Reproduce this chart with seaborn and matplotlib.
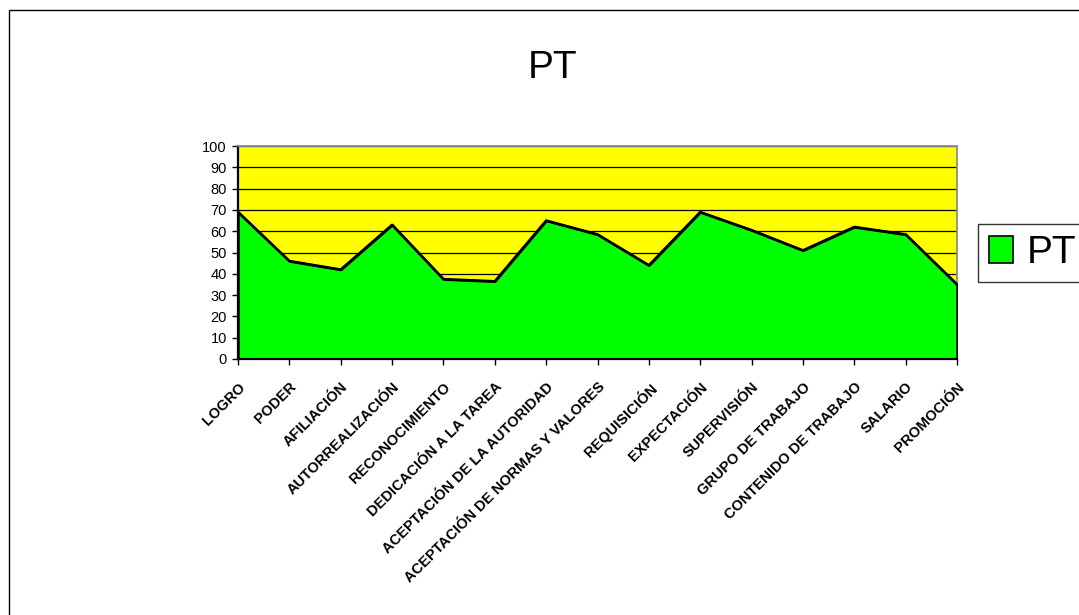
import matplotlib
matplotlib.use("Agg")
import matplotlib.pyplot as plt
import seaborn as sns
import pandas as pd
from matplotlib.patches import Rectangle, Patch

# Motivation factors and PT scores
categories = [
    "LOGRO", "PODER", "AFILIACIÓN", "AUTORREALIZACIÓN", "RECONOCIMIENTO",
    "DEDICACIÓN A LA TAREA", "ACEPTACIÓN DE LA AUTORIDAD",
    "ACEPTACIÓN DE NORMAS Y VALORES", "REQUISICIÓN", "EXPECTACIÓN",
    "SUPERVISIÓN", "GRUPO DE TRABAJO", "CONTENIDO DE TRABAJO", "SALARIO",
    "PROMOCIÓN",
]
pt_values = [69, 46, 42, 63, 37.5, 36.5, 65, 58.5, 44, 69, 60.5, 51, 62, 58.5, 35]
y_ticks = list(range(0, 101, 10))
series_name = "PT"
chart_title = "PT"

sns.set_theme(style="white")
plt.rcParams["font.family"] = ["Liberation Sans", "DejaVu Sans"]
plt.rcParams["text.color"] = "black"
plt.rcParams["xtick.color"] = "black"
plt.rcParams["ytick.color"] = "black"
plt.rcParams["axes.labelcolor"] = "black"

df = pd.DataFrame({"factor": categories, "pos": range(len(categories)), "PT": pt_values})

W, H = 1079, 615
fig = plt.figure(figsize=(W / 100, H / 100), dpi=100)
fig.patch.set_facecolor("white")

# outer chart-area border
fig.add_artist(Rectangle((9 / W, -0.2), 1.5, 1.2 - 10 / H, transform=fig.transFigure,
                         fill=False, edgecolor="black", lw=1.0))

ax = fig.add_axes([238 / W, 1 - 359 / H, (957 - 238) / W, (359 - 146) / H])
ax.set_facecolor("#FFFF00")

ax.fill_between(df["pos"], df["PT"], 0, color="#00FF00", edgecolor="black",
                linewidth=1.8, zorder=2)
sns.lineplot(data=df, x="pos", y="PT", color="black", linewidth=1.8, ax=ax,
             zorder=3, legend=False)

ax.set_xlim(0, len(categories) - 1)
ax.set_ylim(0, 100)
ax.set_yticks(y_ticks)
ax.set_yticklabels([str(v) for v in y_ticks], fontsize=10.5)
ax.set_xticks(df["pos"])
ax.set_xticklabels(categories, rotation=45, ha="right", va="top",
                   rotation_mode="anchor", fontsize=10.5, fontweight="bold")
ax.set_xlabel("")
ax.set_ylabel("")

ax.yaxis.grid(True, color="black", linewidth=0.9)
ax.xaxis.grid(False)
ax.set_axisbelow(True)

for side in ("left", "bottom"):
    ax.spines[side].set_color("black")
    ax.spines[side].set_linewidth(1.6)
for side in ("top", "right"):
    ax.spines[side].set_color("#8c8c8c")
    ax.spines[side].set_linewidth(1.3)
ax.spines["right"].set_zorder(1)

ax.tick_params(axis="both", direction="out", length=4, width=1, color="black",
               left=True, bottom=True)
ax.tick_params(axis="y", pad=4)
ax.tick_params(axis="x", pad=11)

fig.text(553 / W, 1 - 78 / H, chart_title, ha="center", va="baseline", fontsize=28)

handle = Patch(facecolor="#00FF00", edgecolor="black", linewidth=1.2)
leg = fig.legend([handle], [series_name], loc="center left",
                 bbox_to_anchor=(978 / W, 1 - 253 / H), fontsize=28,
                 frameon=True, fancybox=False, shadow=False,
                 handlelength=0.62, handleheight=0.68, handletextpad=0.35,
                 borderpad=0.28, borderaxespad=0)
leg.get_frame().set_edgecolor("black")
leg.get_frame().set_linewidth(1.0)

fig.savefig("out.png", dpi=100, facecolor="white")
